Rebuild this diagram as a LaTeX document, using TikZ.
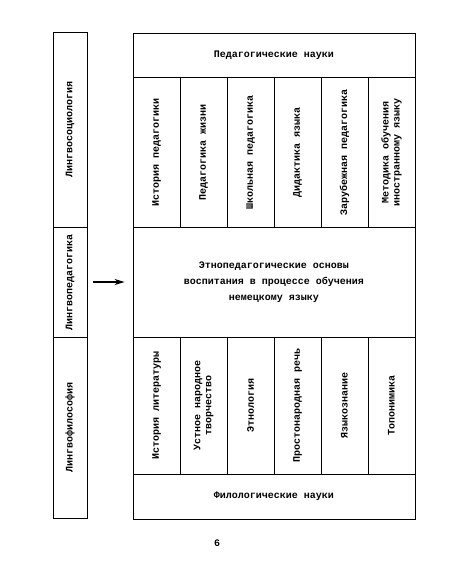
\documentclass[tikz,border=0pt]{standalone}
\usepackage{fontspec}
\setmainfont{Liberation Mono}
\usetikzlibrary{arrows.meta}
\begin{document}
\begin{tikzpicture}[x=1pt, y=-1pt, line width=0.8pt,
  every node/.style={font=\bfseries\fontsize{10}{11}\selectfont},
  box/.style={draw, inner sep=0pt, align=center},
  vbox/.style={box, rotate=90}]
  \useasboundingbox (0,0) rectangle (450,582);
  % left column
  \node[vbox, minimum width=195pt, minimum height=34pt] (soc)  at (70,129.5) {Лингвосоциология};
  \node[vbox, minimum width=110pt, minimum height=34pt] (lped) at (70,282)   {Лингвопедагогика};
  \node[vbox, minimum width=181pt, minimum height=34pt] (phil) at (70,427.5) {Лингвофилософия};
  % pedagogical sciences
  \node[box, minimum width=282pt, minimum height=44pt] (pedsci) at (274,55) {Педагогические науки};
  \node[vbox, minimum width=150pt, minimum height=47pt] (p1) at (156.5,152) {История педагогики};
  \node[vbox, minimum width=150pt, minimum height=47pt] (p2) at (203.5,152) {Педагогика жизни};
  \node[vbox, minimum width=150pt, minimum height=47pt] (p3) at (250.5,152) {Школьная педагогика};
  \node[vbox, minimum width=150pt, minimum height=47pt] (p4) at (297.5,152) {Дидактика языка};
  \node[vbox, minimum width=150pt, minimum height=47pt] (p5) at (344.5,152) {Зарубежная педагогика};
  \node[vbox, minimum width=150pt, minimum height=47pt] (p6) at (391.5,152) {Методика обучения\\иностранному языку};
  % centre
  \node[box, minimum width=282pt, minimum height=110pt, font=\bfseries\fontsize{10}{16}\selectfont] (etno) at (274,282)
    {Этнопедагогические основы\\воспитания в процессе обучения\\немецкому языку};
  % philological sciences
  \node[vbox, minimum width=137pt, minimum height=47pt] (f1) at (156.5,405.5) {История литературы};
  \node[vbox, minimum width=137pt, minimum height=47pt] (f2) at (203.5,405.5) {Устное народное\\творчество};
  \node[vbox, minimum width=137pt, minimum height=47pt] (f3) at (250.5,405.5) {Этнология};
  \node[vbox, minimum width=137pt, minimum height=47pt] (f4) at (297.5,405.5) {Простонародная речь};
  \node[vbox, minimum width=137pt, minimum height=47pt] (f5) at (344.5,405.5) {Языкознание};
  \node[vbox, minimum width=137pt, minimum height=47pt] (f6) at (391.5,405.5) {Топонимика};
  \node[box, minimum width=282pt, minimum height=45pt] (philsci) at (274,496.5) {Филологические науки};
  % arrow
  \draw[-{Stealth[length=10pt,width=6pt]}, line width=2pt, shorten <=6pt, shorten >=8pt] (lped.south) -- (etno.west);
  \node (page) at (217,543) {6};
\end{tikzpicture}
\end{document}
